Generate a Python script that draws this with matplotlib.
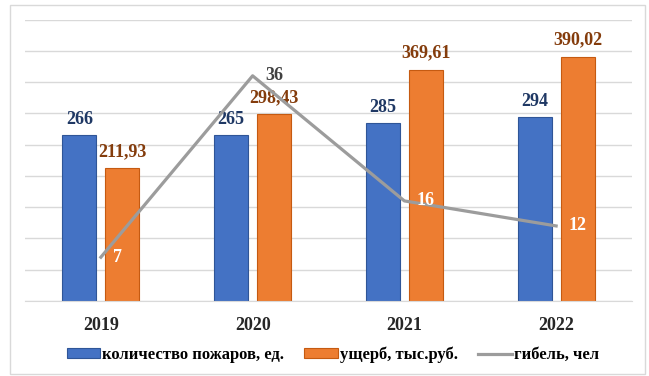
import matplotlib
matplotlib.use("Agg")
import matplotlib.pyplot as plt
from matplotlib.patches import Rectangle, Patch
from matplotlib.lines import Line2D
import numpy as np

years = ["2019", "2020", "2021", "2022"]
fires = [266, 265, 285, 294]
damage = [211.93, 298.43, 369.61, 390.02]
deaths = [7, 36, 16, 12]
damage_labels = ["211,93", "298,43", "369,61", "390,02"]

label_fires = "количество пожаров, ед."
label_damage = "ущерб, тыс.руб."
label_deaths = "гибель, чел"

BLUE = "#4472C4"
BLUE_EDGE = "#2F5597"
ORANGE = "#ED7D31"
ORANGE_EDGE = "#C55A11"
GRAY = "#9C9C9C"
FONT = "Liberation Serif"

fig = plt.figure(figsize=(6.49, 3.76), dpi=100)
fig.patches.append(Rectangle((10/649, 1-374/376), 635/649, 369/376, transform=fig.transFigure,
                             fill=False, edgecolor="#D9D9D9", linewidth=1))
ax = fig.add_axes([25/649, 1-301/376, 607/649, 281.5/376])
ax2 = ax.twinx()

x = np.arange(len(years))
w = 0.224
off = 0.142
ax.bar(x - off, fires, w, color=BLUE, edgecolor=BLUE_EDGE, linewidth=0.8, zorder=2)
ax.bar(x + off, damage, w, color=ORANGE, edgecolor=ORANGE_EDGE, linewidth=0.8, zorder=2)
ax.set_ylim(0, 450)
ax.set_yticks(np.arange(0, 451, 50))
ax.set_xlim(-0.5, 3.5)
ax.yaxis.grid(True, color="#D9D9D9", linewidth=1)
ax.set_axisbelow(True)
ax.tick_params(axis="y", left=False, labelleft=False)
ax.tick_params(axis="x", bottom=False, pad=8)
ax.set_xticks(x)
ax.set_xticklabels(years, fontfamily=FONT, fontweight="bold", fontsize=13, color="#262626")
for s in ["top", "right", "left"]:
    ax.spines[s].set_visible(False)
ax.spines["bottom"].set_color("#D9D9D9")

for xi, v in zip(x, fires):
    ax.annotate(str(v), (xi - off, v), xytext=(0, 5), textcoords="offset points",
                ha="center", va="bottom", fontfamily=FONT, fontweight="bold",
                fontsize=13, color="#1F3864")
for xi, v, t in zip(x, damage, damage_labels):
    ax.annotate(t, (xi + off, v), xytext=(0, 6), textcoords="offset points",
                ha="center", va="bottom", fontfamily=FONT, fontweight="bold",
                fontsize=13, color="#843C0C")

ax2.plot(x, deaths, color=GRAY, linewidth=2.3, zorder=3)
ax2.set_ylim(0, 45)
ax2.axis("off")
for xi, v in zip(x, deaths):
    col = "#404040" if v == 36 else "white"
    ax2.annotate(str(v), (xi, v), xytext=(9, 0), textcoords="offset points",
                 ha="left", va="center", fontfamily=FONT, fontweight="bold",
                 fontsize=13, color=col)

handles = [Patch(facecolor=BLUE, edgecolor=BLUE_EDGE, linewidth=0.8),
           Patch(facecolor=ORANGE, edgecolor=ORANGE_EDGE, linewidth=0.8),
           Line2D([0], [0], color=GRAY, linewidth=2.3)]
fig.legend(handles, [label_fires, label_damage, label_deaths], ncol=3, loc="center",
           bbox_to_anchor=(0.513, 1-355/376), frameon=False,
           prop={"family": FONT, "weight": "bold", "size": 12},
           handlelength=2.0, handleheight=0.55, handletextpad=0.15, columnspacing=1.2)

fig.savefig("out.png", dpi=100)
